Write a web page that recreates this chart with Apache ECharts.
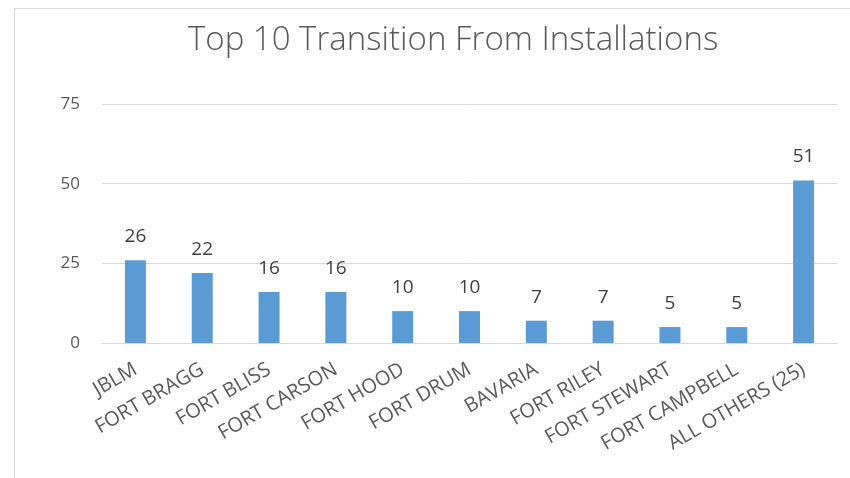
<!DOCTYPE html>
<html><head><meta charset="utf-8">
<script src="https://cdn.jsdelivr.net/npm/echarts@6/dist/echarts.min.js"></script>
<style>html,body{margin:0;padding:0;background:#fff}#c{width:850px;height:478px}
#frame{position:absolute;left:14px;top:8px;width:900px;height:600px;border:1px solid #d9d9d9;pointer-events:none}</style>
</head><body><div id="c"></div><div id="frame"></div>
<script>
const categories = ["JBLM","FORT BRAGG","FORT BLISS","FORT CARSON","FORT HOOD","FORT DRUM","BAVARIA","FORT RILEY","FORT STEWART","FORT CAMPBELL","ALL OTHERS (25)"];
const values = [26,22,16,16,10,10,7,7,5,5,51];
const chart = echarts.init(document.getElementById('c'));
chart.setOption({
  animation:false,
  title:{text:"Top 10 Transition From Installations",left:183,top:19,
    textStyle:{fontFamily:'Open Sans',fontWeight:300,fontSize:33,color:'#595959'}},
  grid:{left:102,right:13,top:104,bottom:135,containLabel:false},
  xAxis:{type:'category',data:categories,
    axisLine:{lineStyle:{color:'#d9d9d9',width:1}},axisTick:{show:false},
    axisLabel:{rotate:30,interval:0,color:'#595959',fontSize:20,fontFamily:'Open Sans',margin:25}},
  yAxis:{type:'value',min:0,max:75,interval:25,
    axisLine:{show:false},axisTick:{show:false},
    splitLine:{lineStyle:{color:'#d9d9d9',width:1}},
    axisLabel:{color:'#595959',fontSize:17,fontFamily:'Open Sans',margin:22}},
  series:[{type:'bar',data:values,barWidth:21,itemStyle:{color:'#5b9bd5'},
    label:{show:true,position:'top',distance:14,color:'#404040',fontSize:19,fontFamily:'Open Sans'}}]
});
</script></body></html>
